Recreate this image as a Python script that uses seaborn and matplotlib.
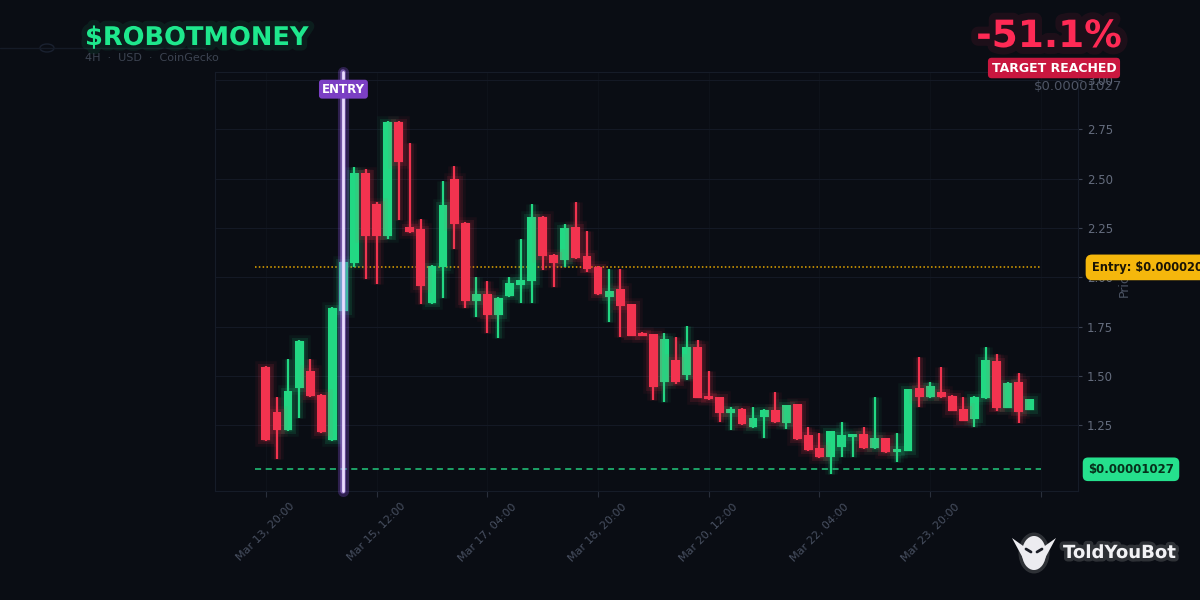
import numpy as np
import pandas as pd
import matplotlib
matplotlib.use("Agg")
import matplotlib.pyplot as plt
import matplotlib.patheffects as pe
from matplotlib.patches import Ellipse, Polygon
from matplotlib.lines import Line2D
import seaborn as sns

# 4H candles, prices in units of 1e-5 USD
start = "2025-03-13 20:00"
opens = [1.545, 1.319, 1.226, 1.437, 1.527, 1.405, 1.175, 1.831, 2.071, 2.530,
         2.370, 2.209, 2.786, 2.256, 2.245, 1.868, 2.054, 2.498, 2.274, 1.881,
         1.914, 1.809, 1.905, 1.961, 1.981, 2.304, 2.115, 2.088, 2.253, 2.106,
         2.051, 1.902, 1.939, 1.863, 1.716, 1.711, 1.468, 1.581, 1.505, 1.645,
         1.400, 1.392, 1.311, 1.334, 1.243, 1.291, 1.327, 1.260, 1.358, 1.201,
         1.136, 1.088, 1.141, 1.192, 1.206, 1.133, 1.184, 1.115, 1.120, 1.437,
         1.392, 1.417, 1.400, 1.331, 1.280, 1.387, 1.578, 1.340, 1.471, 1.327]
highs = [1.550, 1.392, 1.584, 1.680, 1.584, 1.410, 1.850, 2.080, 2.561, 2.550,
         2.383, 2.790, 2.790, 2.679, 2.297, 2.060, 2.488, 2.564, 2.280, 2.003,
         1.981, 1.900, 2.000, 2.194, 2.370, 2.310, 2.120, 2.269, 2.383, 2.236,
         2.055, 2.044, 2.042, 1.865, 1.725, 1.715, 1.716, 1.699, 1.755, 1.682,
         1.527, 1.395, 1.345, 1.336, 1.345, 1.330, 1.420, 1.355, 1.360, 1.243,
         1.212, 1.221, 1.268, 1.205, 1.243, 1.395, 1.186, 1.209, 1.436, 1.595,
         1.471, 1.547, 1.402, 1.395, 1.397, 1.645, 1.611, 1.468, 1.513, 1.385]
lows = [1.170, 1.078, 1.220, 1.288, 1.395, 1.210, 1.170, 1.830, 2.054, 1.991,
        1.966, 2.193, 2.290, 2.225, 1.863, 1.865, 1.894, 2.143, 1.843, 1.800,
        1.719, 1.694, 1.900, 1.868, 1.868, 2.037, 1.952, 2.054, 2.090, 2.027,
        1.910, 1.775, 1.699, 1.700, 1.700, 1.377, 1.370, 1.460, 1.479, 1.390,
        1.380, 1.265, 1.226, 1.250, 1.235, 1.184, 1.260, 1.230, 1.175, 1.120,
        1.085, 1.003, 1.091, 1.091, 1.130, 1.130, 1.110, 1.065, 1.118, 1.341,
        1.390, 1.390, 1.320, 1.270, 1.243, 1.385, 1.324, 1.338, 1.260, 1.325]
closes = [1.175, 1.226, 1.424, 1.679, 1.398, 1.217, 1.846, 2.079, 2.530, 2.209,
          2.209, 2.786, 2.586, 2.231, 1.957, 2.059, 2.368, 2.269, 1.881, 1.914,
          1.809, 1.897, 1.970, 1.986, 2.304, 2.108, 2.071, 2.251, 2.099, 2.042,
          1.914, 1.932, 1.855, 1.704, 1.703, 1.446, 1.686, 1.469, 1.645, 1.390,
          1.383, 1.311, 1.334, 1.255, 1.288, 1.327, 1.265, 1.353, 1.178, 1.125,
          1.088, 1.221, 1.199, 1.204, 1.133, 1.184, 1.113, 1.131, 1.434, 1.395,
          1.451, 1.392, 1.324, 1.274, 1.395, 1.581, 1.336, 1.466, 1.319, 1.382]
entry_idx = 7
entry_price = 2.05
target_price = 1.027
y_ticks = [1.25, 1.50, 1.75, 2.00, 2.25, 2.50, 2.75, 3.00]

times = pd.date_range(start, periods=len(opens), freq="4h")
df = pd.DataFrame({"time": times, "open": opens, "high": highs,
                   "low": lows, "close": closes})
df["x"] = np.arange(len(df))
df["up"] = df["close"] >= df["open"]

bg = "#0a0d14"
green = "#22d883"
red = "#f2334f"
muted = "#4b5363"

sns.set_theme(style="dark", rc={"axes.facecolor": bg, "figure.facecolor": bg})
plt.rcParams["font.family"] = ["DejaVu Sans"]

fig = plt.figure(figsize=(12, 6), dpi=100)
ax = fig.add_axes([215 / 1200, 1 - 491 / 600, 863 / 1200, 419 / 600])
ax.set_facecolor(bg)

# candles
for is_up, col in [(True, green), (False, red)]:
    d = df[df["up"] == is_up]
    glow = [pe.Stroke(linewidth=9, foreground=col, alpha=0.06),
            pe.Stroke(linewidth=5, foreground=col, alpha=0.12), pe.Normal()]
    wicks = ax.vlines(d["x"], d["low"], d["high"], color=col, lw=1.6, zorder=3)
    wicks.set_path_effects(glow)
    body_h = (d["close"] - d["open"]).abs().clip(lower=0.012)
    body_b = d[["open", "close"]].min(axis=1)
    bars = ax.bar(d["x"], body_h, bottom=body_b, width=0.8, color=col,
                  linewidth=0, zorder=4)
    for p in bars:
        p.set_path_effects(glow)

# entry / target levels
ax.hlines(entry_price, -1, 70, color="#e6a700", lw=1.1, linestyles=(0, (1, 1.5)), zorder=2)
ax.hlines(target_price, -1, 70, color="#22c97d", lw=1.1, linestyles=(0, (4, 3)), zorder=2)

ax.axvline(entry_idx, color="#eadcff", lw=2, zorder=6, clip_on=False,
           path_effects=[pe.Stroke(linewidth=8, foreground="#9b5cff", alpha=0.25),
                         pe.Stroke(linewidth=4, foreground="#b98cff", alpha=0.5), pe.Normal()])
ax.text(entry_idx, 0.959, "ENTRY", transform=ax.get_xaxis_transform(), ha="center",
        va="center", fontsize=8.5, fontweight="bold", color="white", zorder=7,
        bbox=dict(boxstyle="round,pad=0.25", fc="#7b3fc4", ec="none"))

ax.set_xlim(-4.6, 73.35)
ax.set_ylim(0.917, 3.04)

xt = list(range(0, 71, 10))
xl = [times[i].strftime("%b %d, %H:%M") if i < len(times) else "" for i in xt]
ax.set_xticks(xt)
ax.set_xticklabels(xl, rotation=45, ha="center")
ax.yaxis.tick_right()
ax.yaxis.set_label_position("right")
ax.set_yticks(y_ticks)
ax.set_yticklabels([f"{v:.2f}" for v in y_ticks])
ax.set_ylabel("Price", color=muted, fontsize=9, labelpad=3)
ax.set_xlabel("")
ax.tick_params(axis="x", labelsize=8, colors="#2a303c", labelcolor="#485061",
               length=4, width=0.8, bottom=True)
ax.tick_params(axis="y", labelsize=8.5, colors="#3a4150", labelcolor="#646c7d",
               length=3, width=0.8, right=True)
ax.grid(axis="y", color="#141925", lw=0.8)
ax.grid(axis="x", color="#0f131c", lw=0.6)
for s in ax.spines.values():
    s.set_color("#161c28")
    s.set_linewidth(0.8)

# header texts
fig.text(85 / 1200, 1 - 38 / 600, "$ROBOTMONEY", color="#1ee88d", fontsize=18.5,
         fontweight="bold", va="center", ha="left",
         path_effects=[pe.Stroke(linewidth=8, foreground="#1ee88d", alpha=0.08), pe.Normal()])
fig.text(85 / 1200, 1 - 58 / 600, "4H  ·  USD  ·  CoinGecko", color="#3d4452",
         fontsize=8, va="center", ha="left")
fig.text(1122 / 1200, 1 - 37 / 600, "-51.1%", color="#ff2a55", fontsize=27,
         fontweight="bold", va="center", ha="right",
         path_effects=[pe.Stroke(linewidth=10, foreground="#ff2a55", alpha=0.08), pe.Normal()])
fig.text(1054 / 1200, 1 - 68 / 600, "TARGET REACHED", color="white", fontsize=9,
         fontweight="bold", va="center", ha="center",
         bbox=dict(boxstyle="round,pad=0.3", fc="#c9173f", ec="none"))
fig.text(1122 / 1200, 1 - 87 / 600, "$0.00001027", color="#4e5565", fontsize=9.5,
         va="center", ha="right")

# right-side price tags
ax.annotate("Entry: $0.0000205", xy=((1092 - 215) / 863, entry_price),
            xycoords=("axes fraction", "data"), ha="left", va="center", fontsize=8.3,
            fontweight="bold", color="#1a1405", annotation_clip=False, zorder=8,
            bbox=dict(boxstyle="round,pad=0.55", fc="#f5b70c", ec="none"))
ax.annotate("$0.00001027", xy=((1131 - 215) / 863, target_price),
            xycoords=("axes fraction", "data"), ha="center", va="center", fontsize=8.5,
            fontweight="bold", color="#06301b", annotation_clip=False, zorder=8,
            bbox=dict(boxstyle="round,pad=0.45", fc="#25e08d", ec="none"))

# decorative line top-left
fig.add_artist(Line2D([0, 205 / 1200], [1 - 48 / 600] * 2, color="#151b27", lw=1))
fig.add_artist(Ellipse((47 / 1200, 1 - 48 / 600), 14 / 1200, 8 / 600, fc=bg,
                       ec="#1a2130", lw=1))

# logo
logo_glow = [pe.Stroke(linewidth=5, foreground="white", alpha=0.15), pe.Normal()]
fig.text(1063 / 1200, 1 - 553 / 600, "ToldYouBot", color="#f2f2f5", fontsize=13,
         fontweight="bold", va="center", ha="left", path_effects=logo_glow)
head = Ellipse((1034 / 1200, 1 - 553 / 600), 24 / 1200, 34 / 600, fc="#ececf0",
               ec="none", path_effects=logo_glow)
fig.add_artist(head)
for side in (-1, 1):
    ear = Polygon([((1034 + side * 8) / 1200, 1 - 548 / 600),
                   ((1034 + side * 22) / 1200, 1 - 538 / 600),
                   ((1034 + side * 9) / 1200, 1 - 562 / 600)],
                  closed=True, fc="#ececf0", ec="none")
    fig.add_artist(ear)
    eye = Line2D([(1034 + side * 3) / 1200, (1034 + side * 8) / 1200],
                 [1 - 552 / 600, 1 - 549 / 600], color="#1a1d26", lw=2)
    fig.add_artist(eye)

fig.savefig("out.png", dpi=100, facecolor=bg)
